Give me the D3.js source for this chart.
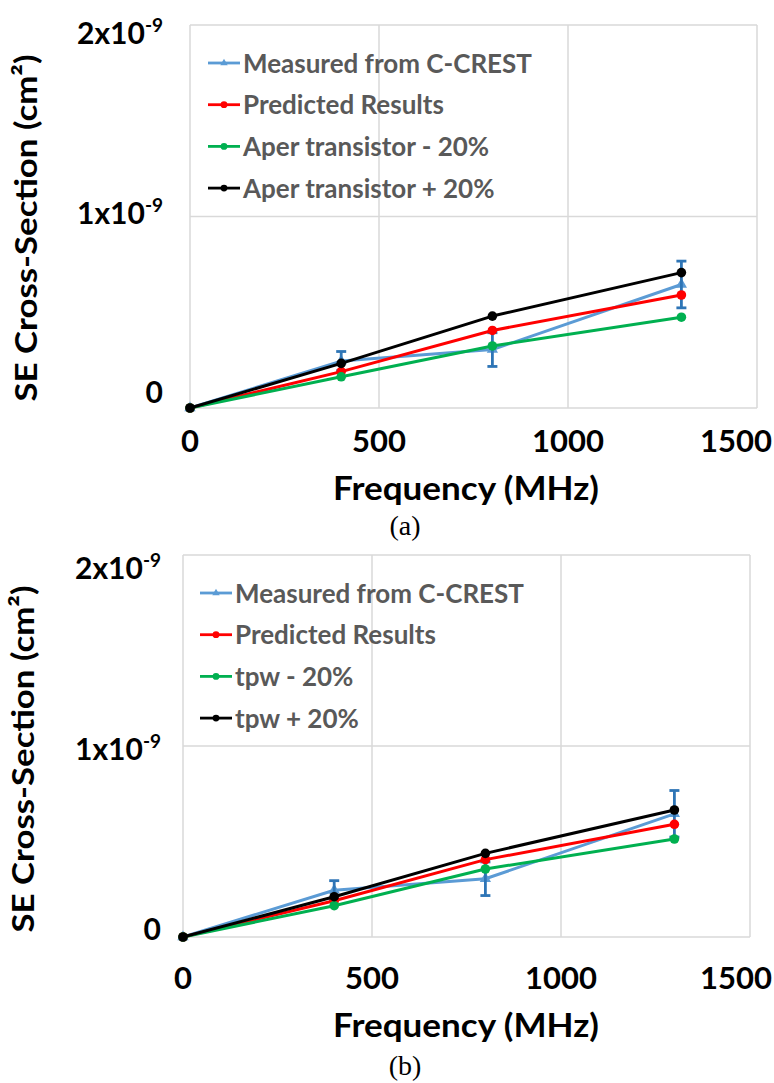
<!DOCTYPE html>
<html>
<head>
<meta charset="utf-8">
<script src="https://cdn.jsdelivr.net/npm/d3@7/dist/d3.min.js"></script>
<style>
  html, body { margin: 0; padding: 0; background: #ffffff; }
  svg { display: block; }
  text { font-family: Lato, "Open Sans", sans-serif; font-weight: bold; }
</style>
</head>
<body>
<svg id="fig" width="774" height="1083"></svg>
<script>
// ---- data ----
const frequency = [0, 400, 800, 1300];                 // MHz
const measured = [0, 0.245e-9, 0.305e-9, 0.645e-9];    // cm^2
const measuredErr = [0, 0.05e-9, 0.088e-9, 0.122e-9];
const predicted = [0, 0.19e-9, 0.405e-9, 0.59e-9];
const aperMinus = [0, 0.163e-9, 0.324e-9, 0.474e-9];
const aperPlus = [0, 0.233e-9, 0.48e-9, 0.707e-9];
const tpwMinus = [0, 0.164e-9, 0.356e-9, 0.513e-9];
const tpwPlus = [0, 0.211e-9, 0.438e-9, 0.665e-9];

const xTickValues = [0, 500, 1000, 1500];
const yTickValues = [0, 1e-9, 2e-9];
const yTickMantissa = ["0", "1x10", "2x10"];
const xTitle = "Frequency (MHz)";
const yTitle = "SE Cross-Section (cm²)";

const colors = { measured: "#5b9bd5", err: "#2e75b6", predicted: "#ff0000", minus: "#00b050", plus: "#000000" };

const W = 774;
const panels = [
  {
    caption: "(a)",
    names: ["Measured from C-CREST", "Predicted Results", "Aper transistor - 20%", "Aper transistor + 20%"],
    minus: aperMinus, plus: aperPlus,
    box: { left: 190, right: 757, top: 25, bottom: 408 },
    xLabelY: 452,
    yLabelRange: [392, 33], yLabelX: 163,
    xTitleY: 500, captionY: 535, yTitlePos: [37, 228],
    legend: { x: 208, y: 63, step: 41.7 }
  },
  {
    caption: "(b)",
    names: ["Measured from C-CREST", "Predicted Results", "tpw - 20%", "tpw + 20%"],
    minus: tpwMinus, plus: tpwPlus,
    box: { left: 183, right: 750, top: 555, bottom: 937 },
    xLabelY: 989,
    yLabelRange: [929, 568], yLabelX: 161,
    xTitleY: 1037, captionY: 1075, yTitlePos: [34, 759],
    legend: { x: 200, y: 593, step: 41.7 }
  }
];

const svg = d3.select("#fig");

function drawPanel(p) {
  const g = svg.append("g");
  const x = d3.scaleLinear().domain([0, 1500]).range([p.box.left, p.box.right]);
  const y = d3.scaleLinear().domain([0, 2e-9]).range([p.box.bottom, p.box.top]);
  const yl = d3.scaleLinear().domain([0, 2e-9]).range(p.yLabelRange);

  // gridlines and frame
  g.append("g").selectAll("line").data(xTickValues).join("line")
    .attr("x1", d => x(d)).attr("x2", d => x(d))
    .attr("y1", y(0)).attr("y2", y(2e-9))
    .attr("stroke", "#d9d9d9").attr("stroke-width", 1.5);
  g.append("g").selectAll("line").data(yTickValues).join("line")
    .attr("x1", x(0)).attr("x2", x(1500))
    .attr("y1", d => y(d)).attr("y2", d => y(d))
    .attr("stroke", "#d9d9d9").attr("stroke-width", 1.5);

  // x tick labels, kept inside the page on the right
  g.append("g").selectAll("text").data(xTickValues).join("text")
    .attr("x", d => x(d)).attr("y", p.xLabelY)
    .attr("text-anchor", "middle").attr("font-size", 31).attr("fill", "#000")
    .text(d => d)
    .each(function (d) {
      const w = this.getComputedTextLength();
      const cx = Math.min(x(d), W - 2 - w / 2);
      d3.select(this).attr("x", cx);
    });

  const yt = g.append("g").selectAll("text").data(yTickValues).join("text")
    .attr("x", p.yLabelX).attr("y", d => yl(d) + 11)
    .attr("text-anchor", "end").attr("font-size", 30).attr("fill", "#000");
  yt.append("tspan").text((d, i) => yTickMantissa[i]);
  yt.filter(d => d !== 0).append("tspan")
    .attr("dy", -12).attr("font-size", 19).text("-9");

  // axis titles and caption
  g.append("text").attr("x", 466).attr("y", p.xTitleY)
    .attr("text-anchor", "middle").attr("font-size", 32)
    .attr("textLength", 266).attr("lengthAdjust", "spacingAndGlyphs").text(xTitle);
  g.append("text")
    .attr("transform", `translate(${p.yTitlePos[0]},${p.yTitlePos[1]}) rotate(-90)`)
    .attr("text-anchor", "middle").attr("font-size", 31)
    .attr("textLength", 347).attr("lengthAdjust", "spacingAndGlyphs").text(yTitle);
  g.append("text").attr("x", 405).attr("y", p.captionY)
    .attr("text-anchor", "middle")
    .style("font-family", "'Liberation Serif', 'DejaVu Serif', serif")
    .style("font-weight", "normal").attr("font-size", 28).text(p.caption);

  const series = [
    { values: measured, color: colors.measured, marker: "tri" },
    { values: predicted, color: colors.predicted, marker: "dot" },
    { values: p.minus, color: colors.minus, marker: "dot" },
    { values: p.plus, color: colors.plus, marker: "dot" }
  ];
  const line = d3.line().x(d => x(d.f)).y(d => y(d.v));
  const tri = d3.symbol(d3.symbolTriangle, 55);

  series.forEach(s => {
    const pts = frequency.map((f, i) => ({ f, v: s.values[i], e: measuredErr[i] }));
    g.append("path").datum(pts).attr("d", line)
      .attr("fill", "none").attr("stroke", s.color).attr("stroke-width", 3)
      .attr("stroke-linejoin", "round");
    if (s.marker === "tri") {
      g.append("g").selectAll("path").data(pts).join("path")
        .attr("d", tri).attr("transform", d => `translate(${x(d.f)},${y(d.v)})`)
        .attr("fill", s.color);
      // error bars
      const eb = g.append("g").attr("stroke", colors.err).attr("stroke-width", 2.8);
      const ep = pts.filter(d => d.e > 0);
      eb.selectAll("line.v").data(ep).join("line").attr("class", "v")
        .attr("x1", d => x(d.f)).attr("x2", d => x(d.f))
        .attr("y1", d => y(d.v - d.e)).attr("y2", d => y(d.v + d.e));
      eb.selectAll("line.t").data(ep).join("line").attr("class", "t")
        .attr("x1", d => x(d.f) - 5).attr("x2", d => x(d.f) + 5)
        .attr("y1", d => y(d.v + d.e)).attr("y2", d => y(d.v + d.e));
      eb.selectAll("line.b").data(ep).join("line").attr("class", "b")
        .attr("x1", d => x(d.f) - 5).attr("x2", d => x(d.f) + 5)
        .attr("y1", d => y(d.v - d.e)).attr("y2", d => y(d.v - d.e));
    } else {
      g.append("g").selectAll("circle").data(pts).join("circle")
        .attr("cx", d => x(d.f)).attr("cy", d => y(d.v)).attr("r", 4.8)
        .attr("fill", s.color);
    }
  });

  // legend
  const lg = g.append("g");
  series.forEach((s, i) => {
    const ly = p.legend.y + i * p.legend.step;
    lg.append("line").attr("x1", p.legend.x).attr("x2", p.legend.x + 32)
      .attr("y1", ly).attr("y2", ly).attr("stroke", s.color).attr("stroke-width", 2.8);
    if (s.marker === "tri") {
      lg.append("path").attr("d", d3.symbol(d3.symbolTriangle, 24))
        .attr("transform", `translate(${p.legend.x + 16},${ly})`).attr("fill", s.color);
    } else {
      lg.append("circle").attr("cx", p.legend.x + 16).attr("cy", ly).attr("r", 3.4).attr("fill", s.color);
    }
    lg.append("text").attr("x", p.legend.x + 35).attr("y", ly + 9.5)
      .attr("font-size", 26).attr("fill", "#595959").text(p.names[i]);
  });
}

panels.forEach(drawPanel);
</script>
</body>
</html>
